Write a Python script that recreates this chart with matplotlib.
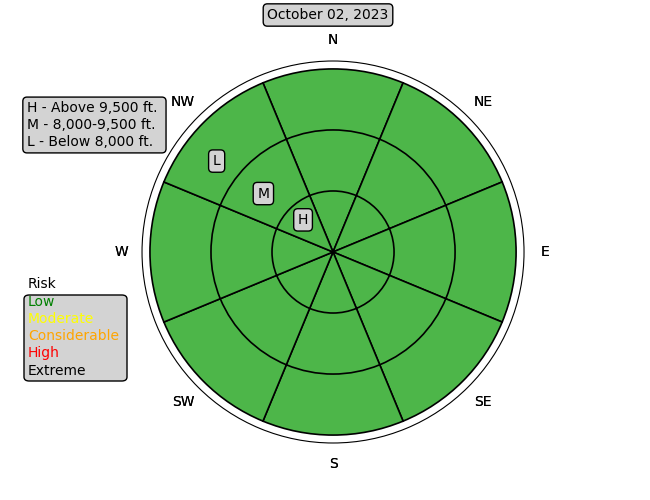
import numpy as np
import matplotlib
matplotlib.use("Agg")
import matplotlib.pyplot as plt
from matplotlib.patches import FancyBboxPatch

directions = ["N", "NE", "E", "SE", "S", "SW", "W", "NW"]
angles_deg = [0, 45, 90, 135, 180, 225, 270, 315]
elevation_bands = ["H", "M", "L"]          # inner -> outer
band_radii = [1, 2, 3]
# risk level per band (rows) and direction (cols): all Low
risk = [
    ["Low"] * 8,
    ["Low"] * 8,
    ["Low"] * 8,
]
risk_levels = ["Low", "Moderate", "Considerable", "High", "Extreme"]
risk_fill = {"Low": "#4db649", "Moderate": "#fff200", "Considerable": "#f7941e",
             "High": "#ed1c24", "Extreme": "#231f20"}
risk_text = ["green", "yellow", "orange", "red", "black"]
date_label = "October 02, 2023"
band_legend = ["H - Above 9,500 ft. ", "M - 8,000-9,500 ft. ", "L - Below 8,000 ft. "]
# band label positions (theta deg clockwise from N, r)
band_label_pos = {"H": (317, 0.72), "M": (310, 1.49), "L": (308, 2.42)}

fig = plt.figure(figsize=(6.5, 5), dpi=100)
ax = fig.add_axes([0.2185, 0.114, 0.5877, 0.764], projection="polar")
ax.set_theta_zero_location("N")
ax.set_theta_direction(-1)

width = np.deg2rad(45)
theta = np.deg2rad(angles_deg)
# draw outer rings first, then inner over them
for bi in reversed(range(3)):
    colors = [risk_fill[r] for r in risk[bi]]
    ax.bar(theta, [band_radii[bi]] * 8, width=width, bottom=0,
           color=colors, edgecolor="black", linewidth=1.2, align="center")

ax.set_ylim(0, 3.13)
ax.set_yticks([])
ax.set_xticks(theta)
ax.set_xticklabels([])
ax.tick_params(axis="both", which="both", length=0, width=0)
ax.grid(False)
ax.spines["polar"].set_linewidth(0.8)
ax.spines["polar"].set_capstyle("butt")
for name in ("start", "end", "inner"):
    if name in ax.spines:
        ax.spines[name].set_visible(False)

for _ in range(2):
    for t, d in zip(theta, directions):
        ax.text(t, 3.475, d, ha="center", va="center", fontsize=10, clip_on=False)

for b in elevation_bands:
    t, r = band_label_pos[b]
    ax.text(np.deg2rad(t), r, b, ha="center", va="center", fontsize=10,
            bbox=dict(boxstyle="round,pad=0.3", fc="lightgrey", ec="black", lw=1))

fig.text(328 / 650, 1 - 15 / 500, date_label, ha="center", va="center", fontsize=10,
         bbox=dict(boxstyle="round,pad=0.3", fc="lightgrey", ec="black", lw=1))

fig.text(27 / 650, 1 - 125 / 500, "\n".join(band_legend), ha="left", va="center",
         fontsize=10, linespacing=1.25,
         bbox=dict(boxstyle="round,pad=0.3", fc="lightgrey", ec="black", lw=1))

fig.text(28 / 650, 1 - 284 / 500, "Risk", ha="left", va="center", fontsize=10)
box = FancyBboxPatch((24 / 650, 1 - 381 / 500), 103 / 650, 86 / 500,
                     boxstyle="round,pad=0,rounding_size=0.008",
                     transform=fig.transFigure, fc="lightgrey", ec="black", lw=1)
fig.patches.append(box)
for i, (lvl, c) in enumerate(zip(risk_levels, risk_text)):
    fig.text(28 / 650, 1 - (301.5 + i * 17.3) / 500, lvl, color=c, ha="left",
             va="center", fontsize=10)

fig.savefig("out.png", dpi=100)
